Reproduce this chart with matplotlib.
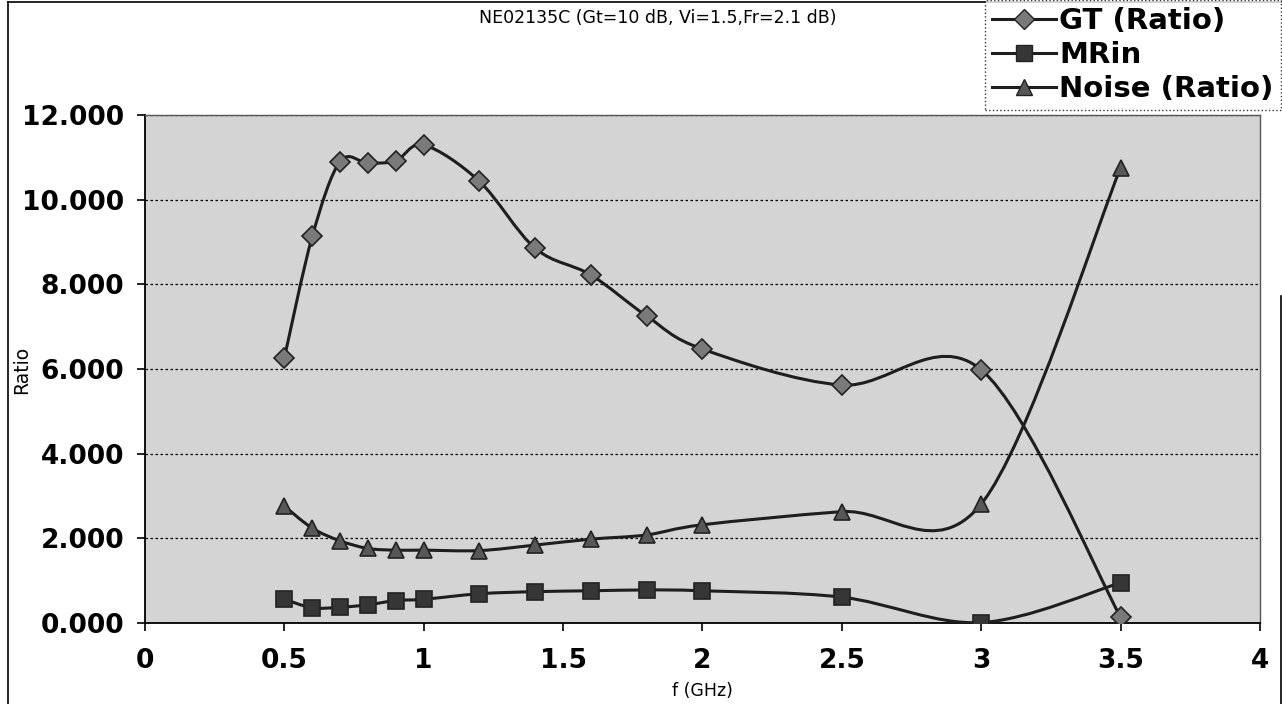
import numpy as np
import matplotlib
matplotlib.use("Agg")
import matplotlib.pyplot as plt
from matplotlib.path import Path
from matplotlib.patches import PathPatch
from matplotlib.lines import Line2D
from matplotlib.ticker import FormatStrFormatter, MultipleLocator

plt.rcParams['font.family'] = ['DejaVu Sans']

# frequency points (GHz)
freq = [0.5, 0.6, 0.7, 0.8, 0.9, 1.0, 1.2, 1.4, 1.6, 1.8, 2.0, 2.5, 3.0, 3.5]

gt_ratio = [6.26, 9.13, 10.90, 10.86, 10.92, 11.29, 10.43, 8.85, 8.22, 7.25, 6.47, 5.62, 5.98, 0.14]
mrin = [0.56, 0.36, 0.37, 0.43, 0.53, 0.56, 0.69, 0.74, 0.76, 0.78, 0.76, 0.61, 0.01, 0.95]
noise_ratio = [2.76, 2.24, 1.94, 1.76, 1.72, 1.72, 1.71, 1.84, 1.98, 2.08, 2.32, 2.63, 2.81, 10.75]

series_names = ['GT (Ratio)', 'MRin', 'Noise (Ratio)']
markers = ['D', 's', '^']
marker_sizes = [10, 11, 11]
marker_colors = ['#7a7a7a', '#363636', '#585858']
line_color = '#1e1e1e'


def smooth_path(xs, ys):
    # Catmull-Rom style bezier, the same smoothing a spreadsheet chart uses
    pts = np.column_stack([xs, ys])
    n = len(pts)
    verts = [pts[0]]
    codes = [Path.MOVETO]
    for i in range(n - 1):
        p0 = pts[i - 1] if i > 0 else pts[i]
        p1 = pts[i]
        p2 = pts[i + 1]
        p3 = pts[i + 2] if i + 2 < n else pts[i + 1]
        c1 = p1 + (p2 - p0) / 6.0
        c2 = p2 - (p3 - p1) / 6.0
        verts += [c1, c2, p2]
        codes += [Path.CURVE4] * 3
    return Path(verts, codes)


fig = plt.figure(figsize=(12.82, 7.04), dpi=100)
ax = fig.add_axes([0.1131, 0.1151, 0.8697, 0.7216])
ax.set_facecolor('#d4d4d4')

for vals, mk, ms, mc in zip([gt_ratio, mrin, noise_ratio], markers,
                            marker_sizes, marker_colors):
    patch = PathPatch(smooth_path(freq, vals), facecolor='none',
                      edgecolor=line_color, lw=2.2, zorder=3)
    ax.add_patch(patch)
    ax.plot(freq, vals, linestyle='none', marker=mk, ms=ms,
            markerfacecolor=mc, markeredgecolor='#222222', markeredgewidth=1.2,
            zorder=4)

ax.set_xlim(0, 4)
ax.set_ylim(0, 12)
ax.yaxis.set_major_locator(MultipleLocator(2))
ax.yaxis.set_major_formatter(FormatStrFormatter('%.3f'))
ax.set_xticks([0, 0.5, 1, 1.5, 2, 2.5, 3, 3.5, 4])
ax.set_xticklabels(['0', '0.5', '1', '1.5', '2', '2.5', '3', '3.5', '4'])

ax.tick_params(axis='both', direction='out', length=6, width=1.2,
               labelsize=19, color='black')
ax.tick_params(axis='x', pad=12)
ax.tick_params(axis='y', pad=9)
for lbl in ax.get_xticklabels() + ax.get_yticklabels():
    lbl.set_fontweight('bold')

ax.grid(axis='y', linestyle=(0, (2, 2)), color='black', linewidth=0.9)
ax.set_axisbelow(True)

for side in ['left', 'bottom']:
    ax.spines[side].set_color('black')
    ax.spines[side].set_linewidth(1.3)
for side in ['top', 'right']:
    ax.spines[side].set_color('#555555')
    ax.spines[side].set_linewidth(1.0)

ax.set_ylabel('Ratio', fontsize=13.5)
ax.yaxis.set_label_coords(-0.102, 0.498)
ax.set_xlabel('f (GHz)', fontsize=12.5)
ax.xaxis.set_label_coords(0.5, -0.117)

fig.text(0.513, 0.975, 'NE02135C (Gt=10 dB, Vi=1.5,Fr=2.1 dB)',
         ha='center', va='center', fontsize=12.5)

handles = [Line2D([0], [0], color=line_color, lw=2.2, marker=mk, ms=ms,
                  markerfacecolor=mc, markeredgecolor='#222222')
           for mk, ms, mc in zip(markers, marker_sizes, marker_colors)]
leg = fig.legend(handles, series_names, loc='upper right',
                 bbox_to_anchor=(0.999, 1.0), frameon=True,
                 prop={'size': 21, 'weight': 'bold'},
                 fancybox=False, edgecolor='black', handlelength=2.2,
                 handletextpad=0.1, labelspacing=0.2, borderpad=0.25,
                 borderaxespad=0.0)
leg.get_frame().set_linestyle(':')
leg.get_frame().set_linewidth(1.0)

# outer chart border
for xy in [([0.006, 0.006], [0.0, 0.997]), ([0.006, 0.999], [0.997, 0.997]),
           ([0.999, 0.999], [0.0, 0.58])]:
    fig.add_artist(Line2D(xy[0], xy[1], transform=fig.transFigure,
                          color='black', lw=1.2))

fig.savefig('out.png', dpi=100)
